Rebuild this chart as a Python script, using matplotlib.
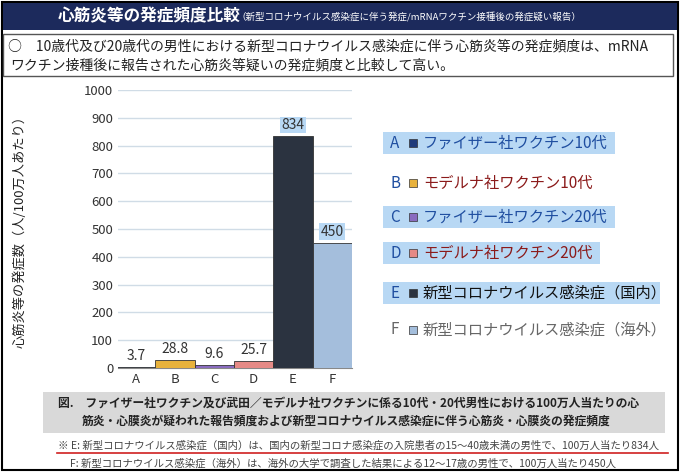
import matplotlib
matplotlib.use('Agg')
import matplotlib.pyplot as plt
from matplotlib.patches import Rectangle

plt.rcParams['font.family'] = 'Noto Sans CJK JP'

# ── Data ──────────────────────────────────────────────────────────────────────
categories = ['A', 'B', 'C', 'D', 'E', 'F']
values = [3.7, 28.8, 9.6, 25.7, 834, 450]
value_labels = ['3.7', '28.8', '9.6', '25.7', '834', '450']
legend_labels = ['ファイザー社ワクチン10代', 'モデルナ社ワクチン10代',
                 'ファイザー社ワクチン20代', 'モデルナ社ワクチン20代',
                 '新型コロナウイルス感染症（国内）', '新型コロナウイルス感染症（海外）']
yticks = list(range(0, 1001, 100))

bar_colors = ['#1f3a7a', '#e8b23c', '#8a6cc0', '#e58a86', '#2b3340', '#a4bedc']
text_colors = ['#1f4ea0', '#8b1a1a', '#1f4ea0', '#8b1a1a', '#111111', '#666666']
highlight_end = [615, None, 615, 600, 660, None]

W, H = 680, 472
fig = plt.figure(figsize=(W / 100, H / 100), dpi=100)

def px(x, y):
    return x / W, 1 - y / H

# outer border
fig.patches.append(Rectangle((2 / W, 2 / H), 676 / W, 468 / H, transform=fig.transFigure,
                             fill=False, ec='black', lw=1.5))
# header band
fig.patches.append(Rectangle(px(3, 30), 674 / W, 27 / H, transform=fig.transFigure,
                             fc='#1c2a5c', ec='none'))
fig.text(*px(58, 16), '心筋炎等の発症頻度比較', color='white', fontsize=12,
         fontweight='bold', va='center')
fig.text(*px(236, 17), '（新型コロナウイルス感染症に伴う発症/mRNAワクチン接種後の発症疑い報告）',
         color='white', fontsize=6.8, va='center')
# summary box
fig.patches.append(Rectangle(px(3, 76), 670 / W, 42 / H, transform=fig.transFigure,
                             fill=False, ec='#555555', lw=1))
fig.text(*px(8, 46), '○　10歳代及び20歳代の男性における新型コロナウイルス感染症に伴う心筋炎等の発症頻度は、mRNA',
         fontsize=10, va='center', color='#222222')
fig.text(*px(10, 65), 'ワクチン接種後に報告された心筋炎等疑いの発症頻度と比較して高い。',
         fontsize=10, va='center', color='#222222')

# ── Bar chart ─────────────────────────────────────────────────────────────────
ax = fig.add_axes([118 / W, (H - 368) / H, (352 - 118) / W, (368 - 90) / H])
x = range(len(categories))
bars = ax.bar(x, values, width=1.0, color=bar_colors, edgecolor='#333333', lw=0.6, zorder=3)
for i, (b, lab) in enumerate(zip(bars, value_labels)):
    ax.text(b.get_x() + b.get_width() / 2, values[i] + 15, lab, ha='center', va='bottom',
            fontsize=10, color='#333333',
            bbox=dict(fc='#b8d8f4', ec='none', pad=1) if i >= 4 else None)
ax.set_ylim(0, 1000)
ax.set_xlim(-0.45, 5.5)
ax.set_yticks(yticks)
ax.set_xticks(list(x))
ax.set_xticklabels(categories)
ax.tick_params(length=0, labelsize=9.5, colors='#333333')
ax.grid(axis='y', color='#d0dce6', lw=1, zorder=0)
for s in ['top', 'right', 'left']:
    ax.spines[s].set_visible(False)
ax.spines['bottom'].set_color('#888888')
fig.text(*px(20, 228), '心筋炎等の発症数（人/100万人あたり）', rotation=90, fontsize=9.5,
         va='center', ha='center', color='#222222')

# ── Legend ────────────────────────────────────────────────────────────────────
leg_y = [143, 183, 217, 253, 293, 330]
for i, (lab, y) in enumerate(zip(legend_labels, leg_y)):
    if highlight_end[i]:
        fig.patches.append(Rectangle(px(383, y + 11), (highlight_end[i] - 383) / W, 22 / H,
                                     transform=fig.transFigure, fc='#b8d8f4', ec='none'))
    fig.text(*px(390, y), categories[i], fontsize=11, va='center',
             color='#1f4ea0' if i != 5 else '#666666')
    fig.patches.append(Rectangle(px(409, y + 4), 8 / W, 8 / H, transform=fig.transFigure,
                                 fc=bar_colors[i], ec='#333333', lw=0.5))
    fig.text(*px(423, y), lab, fontsize=11, va='center', color=text_colors[i])

# ── Caption ───────────────────────────────────────────────────────────────────
fig.patches.append(Rectangle(px(43, 433), 622 / W, 41 / H, transform=fig.transFigure,
                             fc='#d9d9d9', ec='none'))
fig.text(*px(58, 403), '図.　ファイザー社ワクチン及び武田／モデルナ社ワクチンに係る10代・20代男性における100万人当たりの心',
         fontsize=8.5, fontweight='bold', va='center', color='#222222')
fig.text(*px(82, 421), '筋炎・心膜炎が疑われた報告頻度および新型コロナウイルス感染症に伴う心筋炎・心膜炎の発症頻度',
         fontsize=8.5, fontweight='bold', va='center', color='#222222')
fig.text(*px(58, 445), '※ E: 新型コロナウイルス感染症（国内）は、国内の新型コロナ感染症の入院患者の15～40歳未満の男性で、100万人当たり834人',
         fontsize=7.5, va='center', color='#444444')
fig.lines.append(plt.Line2D([57 / W, 668 / W], [1 - 453 / H, 1 - 453 / H], transform=fig.transFigure,
                            color='#d02020', lw=1.2))
fig.text(*px(70, 463), 'F: 新型コロナウイルス感染症（海外）は、海外の大学で調査した結果による12～17歳の男性で、100万人当たり450人',
         fontsize=7.5, va='center', color='#444444')

fig.savefig('out.png', dpi=100)
